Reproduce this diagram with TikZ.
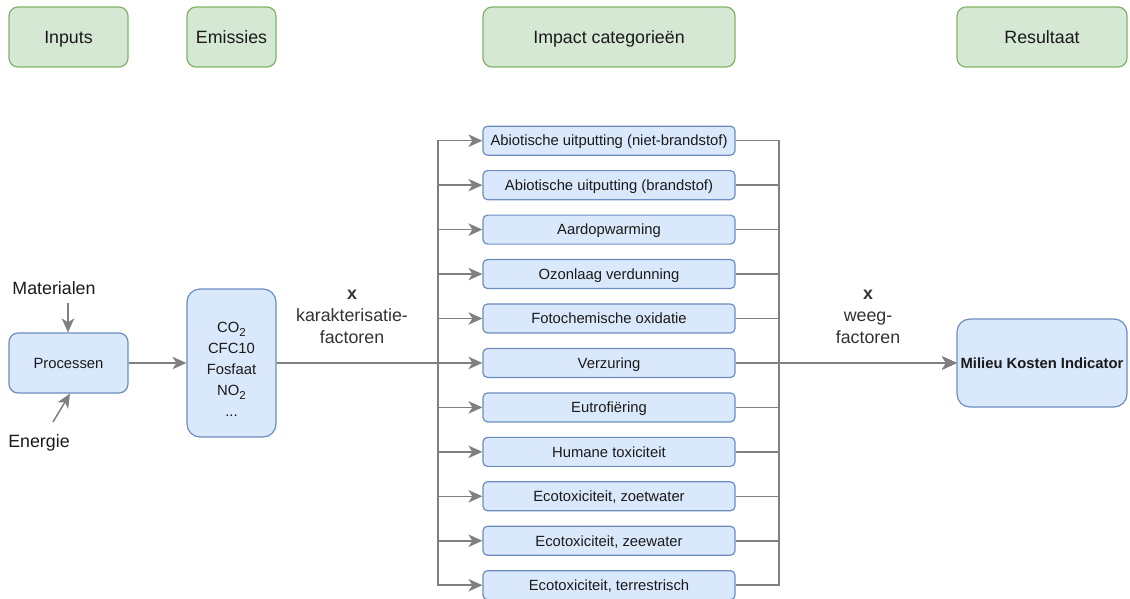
\documentclass[tikz,border=0pt]{standalone}
\usepackage{fontspec}
\setmainfont{Liberation Sans}
\usetikzlibrary{arrows.meta}
\definecolor{gfill}{HTML}{D5E8D4}
\definecolor{gline}{HTML}{82B366}
\definecolor{bfill}{HTML}{DAE8FC}
\definecolor{bline}{HTML}{6C8EBF}
\definecolor{conn}{HTML}{808080}
\definecolor{txt}{HTML}{1A1A1A}
\definecolor{ltxt}{HTML}{333333}
\newcommand{\sub}[1]{\raisebox{-3.5pt}{\fontsize{11.5}{12}\selectfont #1}}
\begin{document}
\begin{tikzpicture}[x=1pt,y=-1pt,
  big/.style={font=\fontsize{17.8}{22}\selectfont},
  small/.style={font=\fontsize{14.8}{18}\selectfont},
  header/.style={draw=gline,fill=gfill,line width=1.2pt,rounded corners=9pt,minimum height=60pt,inner sep=0pt,big,text=txt,text height=12.7pt,text depth=0pt},
  bluebox/.style={draw=bline,fill=bfill,line width=1.2pt,inner sep=0pt,small,text=txt},
  onel/.style={text height=10.6pt,text depth=0pt},
  catbox/.style={bluebox,onel,rounded corners=4.5pt,minimum width=252pt,minimum height=29pt},
  arr/.style={draw=conn,line width=1.5pt,-{Stealth[length=14pt,width=12.5pt,inset=4pt]}},
  lbl/.style={big,text=ltxt,align=center,inner sep=0pt,anchor=north}
]
\useasboundingbox (0,0) rectangle (1130,599);
% headers
\node[header,minimum width=119pt] (hin) at (68.5,37) {Inputs};
\node[header,minimum width=89pt] (hem) at (231.5,37) {Emissies};
\node[header,minimum width=252pt] (himp) at (609,37) {Impact categorieën};
\node[header,minimum width=170pt] (hres) at (1042,37) {Resultaat};
% process
\node[bluebox,onel,rounded corners=9pt,minimum width=119pt,minimum height=60pt] (pr) at (68.5,363) {Processen};
\node[bluebox,rounded corners=13pt,minimum width=89pt,minimum height=148pt] (em) at (231.5,363) {};
\node[align=center,inner sep=0pt,anchor=north,text=txt,font=\fontsize{14.8}{21}\selectfont] (emt) at (231.5,322) {CO\sub{2}\\CFC10\\Fosfaat\\NO\sub{2}\\...};
\node[big,text=txt,inner sep=0pt] (mat) at (54,288) {Materialen};
\node[big,text=txt,inner sep=0pt] (ene) at (39,443) {Energie};
\coordinate (m1) at (68,303);
\coordinate (e1) at (53,422);
\draw[arr] (m1) -- (m1 |- pr.north);
\draw[arr] (e1) -- ([xshift=1.5pt]pr.south);
\draw[arr] (pr.east) -- (em.west |- pr.east);
% categories
\foreach \i/\t in {0/{Abiotische uitputting (niet-brandstof)},1/{Abiotische uitputting (brandstof)},2/{Aardopwarming},3/{Ozonlaag verdunning},4/{Fotochemische oxidatie},5/{Verzuring},6/{Eutrofiëring},7/{Humane toxiciteit},8/{Ecotoxiciteit, zoetwater},9/{Ecotoxiciteit, zeewater},10/{Ecotoxiciteit, terrestrisch}}{
  \node[catbox] (c\i) at (609,{140.7+\i*44.45}) {\t};
}
% result
\node[bluebox,onel,rounded corners=13pt,minimum width=170pt,minimum height=88pt,font=\fontsize{14.8}{18}\selectfont\bfseries] (mk) at (1042,363) {Milieu Kosten Indicator};
% junctions
\coordinate (jl) at (438,363);
\coordinate (jr) at (779,363);
\foreach \i in {0,...,10}{
  \draw[arr] (em.east |- jl) -- (jl) |- (c\i.west);
  \draw[arr] (c\i.east) -| (jr) -- (mk.west);
}
% labels
\node[lbl] (lk) at (352,290) {\textbf{x}\\karakterisatie-\\factoren};
\node[lbl] (lw) at (868,290) {\textbf{x}\\weeg-\\factoren};
\end{tikzpicture}
\end{document}
